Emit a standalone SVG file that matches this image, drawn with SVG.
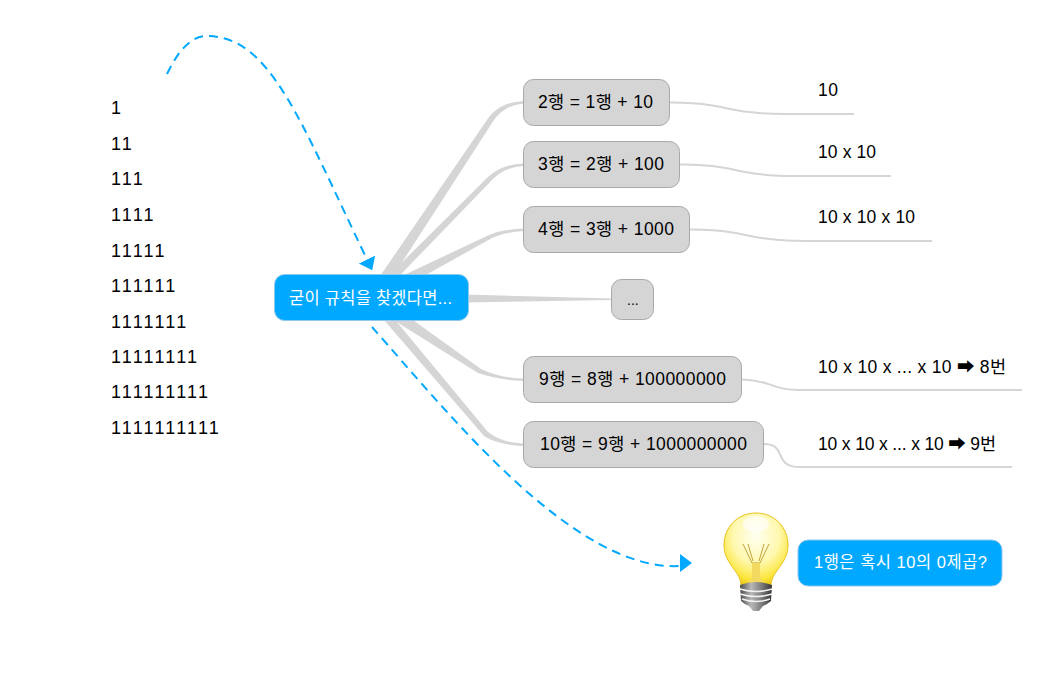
<svg xmlns="http://www.w3.org/2000/svg" width="1044" height="700" viewBox="0 0 1044 700">
<style>
text{font-family:"Liberation Sans","Noto Sans CJK KR","DejaVu Sans",sans-serif;fill:#000}
.n{font-size:17.5px}
.w{font-size:16.5px;fill:#fff}
.l{font-size:18px;letter-spacing:2.2px}
.gray{fill:#d5d5d5;stroke:#a8a8a8;stroke-width:1}
.blue{fill:#00a8ff;stroke:#8fc9ee;stroke-width:1}
.branch{fill:#d5d5d5;stroke:none}
.sub{fill:none;stroke:#d5d5d5;stroke-width:2}
.rel{fill:none;stroke:#00a8ff;stroke-width:2;stroke-dasharray:9 6}
</style>
<defs>
<marker id="ah" markerUnits="userSpaceOnUse" markerWidth="14" markerHeight="20" refX="0" refY="9" orient="auto"><path d="M0 0L12 9L0 18Z" fill="#00a8ff"/></marker>
<marker id="ah0" markerUnits="userSpaceOnUse" markerWidth="14" markerHeight="20" refX="0" refY="12" orient="0"><path d="M0 0L12 9L0 18Z" fill="#00a8ff"/></marker>
<radialGradient id="glass" cx=".5" cy=".32" r=".72"><stop offset="0" stop-color="#fffff2"/><stop offset=".5" stop-color="#fff8b0"/><stop offset=".82" stop-color="#fce63e"/><stop offset="1" stop-color="#e6bb10"/></radialGradient>
<linearGradient id="metal" x1="0" x2="1" y1="0" y2="0"><stop offset="0" stop-color="#4a4a4a"/><stop offset=".35" stop-color="#b8b8b8"/><stop offset=".7" stop-color="#777"/><stop offset="1" stop-color="#333"/></linearGradient>
</defs>
<g id="connectors">
<path class="branch" d="M365 298L489 117Q501 102 523.500 101L523.500 103.500Q505 105 494 120L379 298Z"/>
<path class="branch" d="M366 298L489 176Q503 164 523.500 163.500L523.500 166Q505 167 493 179L378 298Z"/>
<path class="branch" d="M368 292L489 235Q504 229 523.500 228.500L523.500 231Q506 232 492 238L374 304Z"/>
<path class="branch" d="M372 292L611.500 298.500L611.500 300L372 304Z"/>
<path class="branch" d="M374 292L481 369Q500 378 523.500 378.500L523.500 381Q498 380 478 373L368 304Z"/>
<path class="branch" d="M377 298L488 432Q502 443 523.500 443.500L523.500 446Q498 445 484 436L365 298Z"/>
<path class="sub" d="M670 102.500C725 102 725 114 785 114L854 114"/>
<path class="sub" d="M680 164.500C735 164 735 176 795 176L891 176"/>
<path class="sub" d="M690 229.500C745 229 745 241 805 241L932 241"/>
<path class="sub" d="M742 379.500C772 380 770 390 800 390L1022 390"/>
<path class="sub" d="M764 444C788 444 772 467 800 467L1012 467"/>
<path class="rel" marker-end="url(#ah)" d="M167 74C180 47 193 36 207 36C270 36 300 120 367 259.500"/>
<path class="rel" marker-end="url(#ah0)" d="M372 327C450 415 575 572 680 566"/>
</g>
<g id="numbers">
<text class="l" x="111" y="113.500">1</text>
<text class="l" x="111" y="149.500">11</text>
<text class="l" x="111" y="184.500">111</text>
<text class="l" x="111" y="220.500">1111</text>
<text class="l" x="111" y="256.500">11111</text>
<text class="l" x="111" y="291.500">111111</text>
<text class="l" x="111" y="327.500">1111111</text>
<text class="l" x="111" y="362.500">11111111</text>
<text class="l" x="111" y="397.500">111111111</text>
<text class="l" x="111" y="433.500">1111111111</text>
</g>
<g id="center"><rect class="blue" x="274.500" y="274.500" width="194" height="46" rx="10"/><text class="w" x="289" y="304" textLength="163">굳이 규칙을 찾겠다면...</text></g>
<g id="n2"><rect class="gray" x="523.500" y="79.500" width="146" height="46" rx="10"/><text class="n" x="538" y="108" textLength="115">2행 = 1행 + 10</text></g>
<g id="n3"><rect class="gray" x="523.500" y="141.500" width="156" height="46" rx="10"/><text class="n" x="538" y="170" textLength="126">3행 = 2행 + 100</text></g>
<g id="n4"><rect class="gray" x="523.500" y="206.500" width="166" height="46" rx="10"/><text class="n" x="538" y="235" textLength="136">4행 = 3행 + 1000</text></g>
<g id="dots"><rect class="gray" x="611.500" y="279.500" width="42" height="40" rx="10"/><text x="627" y="305" font-size="14">...</text></g>
<g id="n9"><rect class="gray" x="523.500" y="356.500" width="218" height="46" rx="10"/><text class="n" x="539" y="385" textLength="187">9행 = 8행 + 100000000</text></g>
<g id="n10"><rect class="gray" x="523.500" y="421.500" width="240" height="46" rx="10"/><text class="n" x="540" y="450" textLength="207">10행 = 9행 + 1000000000</text></g>
<g id="t2"><text class="n" x="818" y="96" textLength="20">10</text></g>
<g id="t3"><text class="n" x="818" y="158" textLength="58">10 x 10</text></g>
<g id="t4"><text class="n" x="818" y="223" textLength="97">10 x 10 x 10</text></g>
<g id="t9"><text class="n" x="818" y="373" textLength="188">10 x 10 x ... x 10 ➡ 8번</text></g>
<g id="t10"><text class="n" x="818" y="450" textLength="178">10 x 10 x ... x 10 ➡ 9번</text></g>
<g id="bulb">
<path d="M756 513C737 513 724 528 724 545C724 557 731 565 736 572C740 578 741 582 741 586L771 586C771 582 772 578 776 572C781 565 788 557 788 545C788 528 775 513 756 513Z" fill="url(#glass)" stroke="#e8c21a"/>
<ellipse cx="756" cy="524" rx="13" ry="8" fill="#fff" opacity=".65"/>
<path d="M743 544L752 563L760 563L769 544M748 544L753 561M764 544L759 561" stroke="#c4a238" fill="none" stroke-width="1"/>
<path d="M752 563H760V577L764 582H748L752 577Z" fill="#f2d95f"/>
<path d="M740 585Q756 579 772 585L771 601Q766 605 763 606L759 611L753 611L749 606Q745 605 741 601Z" fill="url(#metal)"/>
<path d="M740 589Q756 594 772 589M740 594Q756 599 772 594M742 599Q756 604 770 599" stroke="#f2f2f2" stroke-width="1.500" fill="none"/>
</g>
<g id="idea"><rect class="blue" x="798" y="540" width="204" height="46" rx="10"/><text class="w" x="814" y="568" textLength="173">1행은 혹시 10의 0제곱?</text></g>
</svg>
